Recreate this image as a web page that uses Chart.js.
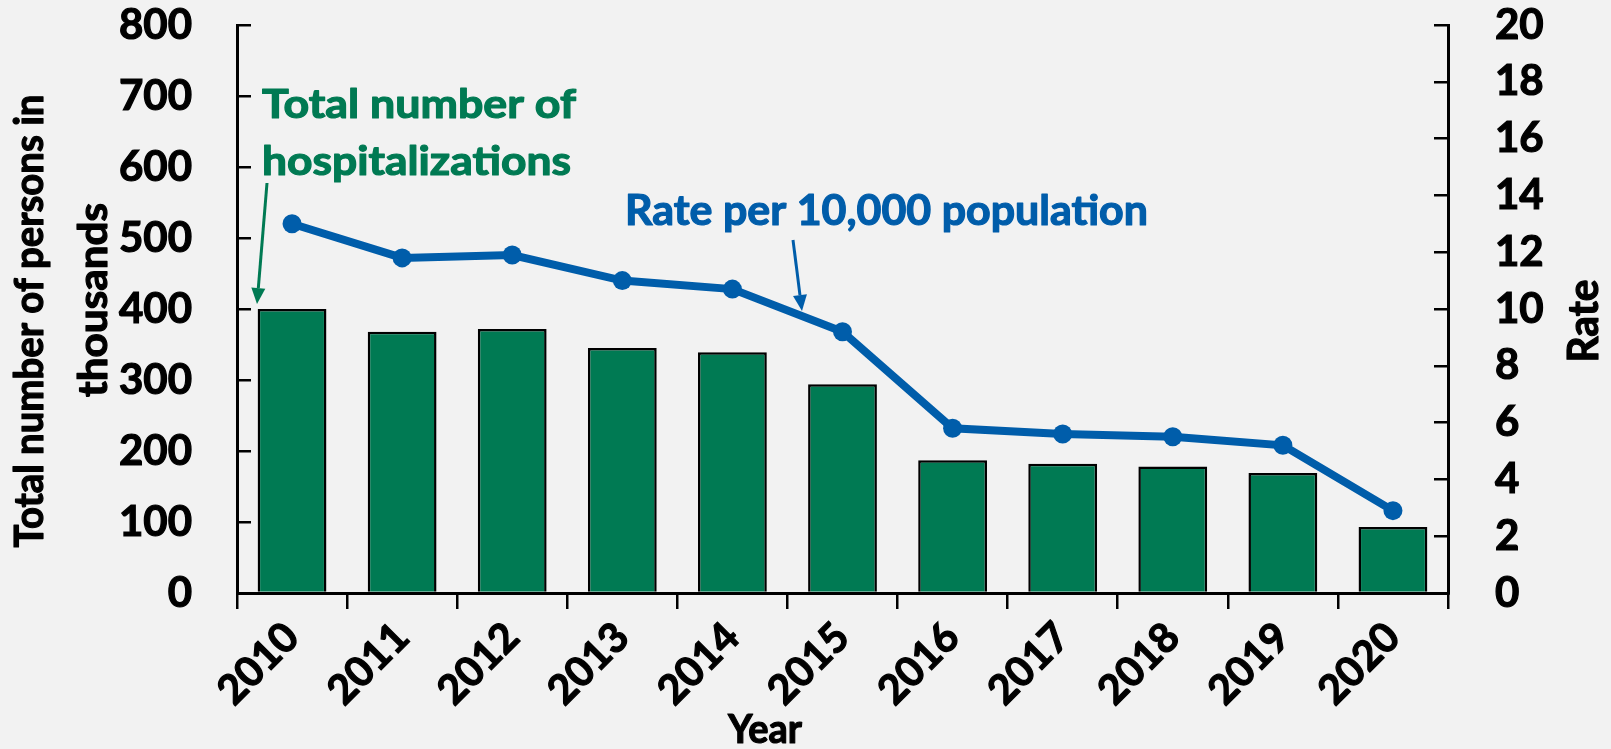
<!DOCTYPE html>
<html>
<head>
<meta charset="utf-8">
<script src="https://cdn.jsdelivr.net/npm/chart.js@4"></script>
<style>
  html, body { margin: 0; padding: 0; background: #f2f2f2; }
  #wrap { width: 1611px; height: 749px; }
</style>
</head>
<body>
<div id="wrap"><canvas id="chart" width="1611" height="749"></canvas></div>
<script>
// values
const years = ["2010", "2011", "2012", "2013", "2014", "2015", "2016", "2017", "2018", "2019", "2020"];
const hospitalizations = [400, 368, 372, 345, 339, 294, 187, 182, 178, 169, 93]; // thousands
const ratePer10k = [13.0, 11.8, 11.9, 11.0, 10.7, 9.2, 5.8, 5.6, 5.5, 5.2, 2.9];

const GREEN = "#007a53";
const BLUE = "#005daa";
const FONT = "Lato";

// text + arrows that sit around the plot
const labels = [
  { text: "Total number of", x: 262, y: 118, width: 314, size: 40, color: GREEN },
  { text: "hospitalizations", x: 262, y: 175, width: 309, size: 40, color: GREEN },
  { text: "Rate per 10,000 population", x: 625, y: 225, width: 523, size: 42, color: BLUE },
  { text: "Total number of persons in", x: 43, y: 321, width: 453, size: 40, color: "#000", align: "center", rotate: -Math.PI / 2 },
  { text: "thousands", x: 107, y: 300, width: 194, size: 40, color: "#000", align: "center", rotate: -Math.PI / 2 },
  { text: "Rate", x: 1598, y: 321, width: 83, size: 42, color: "#000", align: "center", rotate: -Math.PI / 2 },
  { text: "Year", x: 765, y: 743, width: 74, size: 40, color: "#000", align: "center" },
];
const arrows = [
  { from: [267, 183], to: [257, 304], color: GREEN },
  { from: [793, 240], to: [802, 311], color: BLUE },
];

function drawLabel(ctx, o) {
  ctx.save();
  ctx.font = `bold ${o.size}px ${FONT}`;
  ctx.fillStyle = o.color;
  ctx.strokeStyle = o.color;
  ctx.lineWidth = 1.2;
  ctx.lineJoin = "round";
  ctx.textBaseline = "alphabetic";
  ctx.textAlign = o.align || "left";
  ctx.translate(o.x, o.y);
  if (o.rotate) ctx.rotate(o.rotate);
  const w = ctx.measureText(o.text).width;
  ctx.scale(o.width / w, 1);
  ctx.fillText(o.text, 0, 0);
  ctx.strokeText(o.text, 0, 0);
  ctx.restore();
}

function drawArrow(ctx, a) {
  const [x1, y1] = a.from;
  const [x2, y2] = a.to;
  const ang = Math.atan2(y2 - y1, x2 - x1);
  const head = 16, half = 7;
  ctx.save();
  ctx.strokeStyle = a.color;
  ctx.fillStyle = a.color;
  ctx.lineWidth = 3;
  ctx.beginPath();
  ctx.moveTo(x1, y1);
  ctx.lineTo(x2 - Math.cos(ang) * head, y2 - Math.sin(ang) * head);
  ctx.stroke();
  ctx.beginPath();
  ctx.moveTo(x2, y2);
  ctx.lineTo(x2 - Math.cos(ang) * head - Math.sin(ang) * half, y2 - Math.sin(ang) * head + Math.cos(ang) * half);
  ctx.lineTo(x2 - Math.cos(ang) * head + Math.sin(ang) * half, y2 - Math.sin(ang) * head - Math.cos(ang) * half);
  ctx.closePath();
  ctx.fill();
  ctx.restore();
}

const annotations = {
  id: "annotations",
  afterDraw(chart) {
    const ctx = chart.ctx;
    labels.forEach((l) => drawLabel(ctx, l));
    arrows.forEach((a) => drawArrow(ctx, a));
  },
};

// fixed box sizes so the plot area lands where the reference has it
function fixBox(size) {
  return (s) => {
    if (s.isHorizontal()) s.height = size; else s.width = size;
    s.paddingTop = s.paddingBottom = s.paddingLeft = s.paddingRight = 0;
  };
}

const tickFont = { family: FONT, weight: "bold", size: 42 };
const axisGrid = { drawOnChartArea: false, color: "#000", lineWidth: 2.5, tickLength: -14 };
const axisBorder = { color: "#000", width: 3 };
const tickStroke = { textStrokeColor: "#000", textStrokeWidth: 1.2 };

new Chart(document.getElementById("chart").getContext("2d"), {
  type: "bar",
  data: {
    labels: years,
    datasets: [
      {
        type: "line",
        label: "Rate per 10,000 population",
        data: ratePer10k,
        yAxisID: "y1",
        borderColor: BLUE,
        backgroundColor: BLUE,
        pointBackgroundColor: BLUE,
        borderWidth: 8,
        pointRadius: 9.5,
        pointHoverRadius: 9.5,
        pointBorderWidth: 0,
        tension: 0,
        order: 0,
      },
      {
        label: "Total number of hospitalizations",
        data: hospitalizations,
        yAxisID: "y",
        backgroundColor: GREEN,
        borderColor: "#000",
        borderWidth: 2.5,
        barPercentage: 0.625,
        categoryPercentage: 1,
        order: 1,
      },
    ],
  },
  options: {
    responsive: false,
    animation: false,
    layout: { autoPadding: false, padding: { top: 25, left: 0, right: 0, bottom: 0 } },
    plugins: { legend: { display: false }, tooltip: { enabled: false } },
    scales: {
      x: {
        grid: { offset: true, drawOnChartArea: false, color: "#000", lineWidth: 2.5, tickLength: 16 },
        border: axisBorder,
        ticks: { color: "#000", font: { family: FONT, weight: "bold", size: 41 }, minRotation: 45, maxRotation: 45, padding: 4, ...tickStroke },
        afterFit: fixBox(156),
      },
      y: {
        position: "left",
        min: 0,
        max: 800,
        ticks: { stepSize: 100, autoSkip: false, color: "#000", font: tickFont, padding: 59, ...tickStroke },
        grid: axisGrid,
        border: axisBorder,
        afterFit: fixBox(237),
      },
      y1: {
        position: "right",
        min: 0,
        max: 20,
        ticks: { stepSize: 2, autoSkip: false, color: "#000", font: tickFont, padding: 61, ...tickStroke },
        grid: axisGrid,
        border: axisBorder,
        afterFit: fixBox(163),
      },
    },
  },
  plugins: [annotations],
});
</script>
</body>
</html>
